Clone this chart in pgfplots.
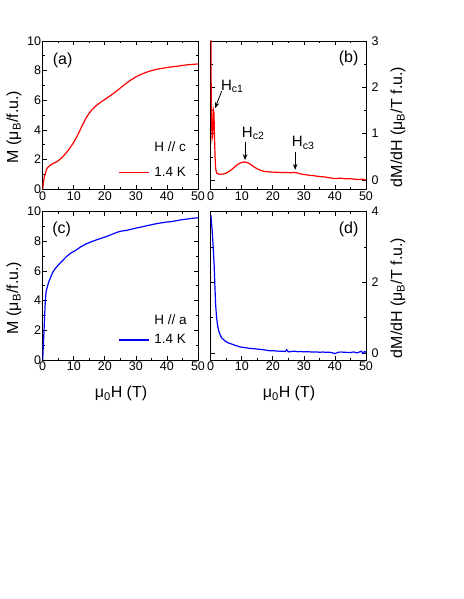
\documentclass[border=0pt]{standalone}
\usepackage{fontspec}
\setmainfont{Liberation Sans}
\usepackage{pgfplots}
\pgfplotsset{compat=1.18}
\usetikzlibrary{arrows.meta}

\pgfplotsset{
  panel/.style={
    scale only axis, width=155.3pt, height=148.3pt,
    xmin=0, xmax=50, xtick={0,10,...,50}, minor x tick num=1,
    tick align=inside, major tick length=4pt, minor tick length=2pt,
    axis line style={line width=0.8pt},
    every tick/.style={line width=0.7pt, black},
    tick label style={font=\fontsize{12.5}{15}\selectfont},
    /pgf/number format/assume math mode=true,
    xticklabel style={inner sep=2pt},
    yticklabel style={inner sep=1.5pt},
  },
  leg/.style={
    legend style={draw=none, fill=none, at={#1}, anchor=west,
      inner sep=0pt, outer sep=0pt,
      nodes={inner sep=0pt, font=\fontsize{13.5}{16}\selectfont},
      /tikz/column sep=5pt},
    legend image code/.code={\draw[##1] (0pt,0pt) -- (29.7pt,0pt);},
  },
}
\tikzset{
  plab/.style={font=\fontsize{16}{19}\selectfont},
  alab/.style={font=\fontsize{16}{19}\selectfont},
  hlab/.style={anchor=base west, inner sep=0pt, font=\fontsize{15}{18}\selectfont},
  txt/.style={anchor=base west, inner sep=0pt, font=\fontsize{13.5}{16}\selectfont},
  arr/.style={-{Stealth[length=6pt,width=4.5pt]}, line width=0.8pt},
}

\begin{document}
\begin{tikzpicture}
\path[use as bounding box] (0pt,0pt) rectangle (463pt,599pt);

% (a) M, H // c
\begin{axis}[panel, at={(42.7pt,409.7pt)}, anchor=south west,
  ymin=0, ymax=10, ytick={0,2,...,10}, minor y tick num=1,
  leg={(axis cs:24.4,1.12)}]
\addplot[red, line width=1.2pt] coordinates {
(0,0) (0.2,0.4) (0.5,0.8) (0.9,1.1) (1.2,1.3) (1.5,1.45) (2,1.55) (3,1.7)
(4,1.8) (5,1.92) (6,2.1) (7,2.32) (8,2.57) (9,2.86) (10,3.17) (11,3.55)
(12,3.98) (13,4.42) (14,4.82) (15,5.14) (16,5.4) (17,5.6) (18,5.77) (19,5.92)
(20,6.06) (21,6.2) (22,6.35) (23,6.5) (24,6.66) (26,7.0) (28,7.32) (30,7.58)
(32,7.78) (34,7.94) (36,8.06) (38,8.14) (40,8.21) (42,8.27) (44,8.32)
(46,8.38) (48,8.42) (50,8.45)};
\addlegendentry{1.4 K}
\node[plab] at (axis cs:6.4,8.72) {(a)};
\node[txt] at (axis cs:35.9,2.54) {H // c};
\end{axis}

% (b) dM/dH, H // c
\begin{axis}[panel, at={(210.7pt,409.7pt)}, anchor=south west,
  ymin=-0.2, ymax=3, ytick={0,1,2,3}, minor y tick num=1,
  yticklabel pos=right, yticklabel style={xshift=4pt}]
\addplot[red, line width=1.2pt] coordinates {
(0.05,3.5) (0.15,2.0) (0.3,1.2) (0.45,0.9) (0.6,0.95) (0.75,1.3) (0.9,1.5)
(1.05,1.45) (1.2,1.0) (1.4,0.5) (1.6,0.25) (1.9,0.15) (2.5,0.13) (3,0.125)
(4,0.13) (5,0.15) (6,0.19) (7,0.24) (8,0.3) (9,0.35) (10,0.38) (11,0.39)
(12,0.37) (13,0.33) (14,0.28) (15,0.24) (16,0.21) (17,0.19) (18,0.18)
(19,0.175) (20,0.17) (21,0.168) (22,0.165) (23,0.16) (24,0.162) (25,0.16)
(26,0.158) (27,0.165) (28,0.15) (29,0.13) (30,0.12) (31,0.11) (32,0.10)
(33,0.095) (34,0.085) (35,0.075) (36,0.07) (37,0.065) (38,0.05) (39,0.04)
(40,0.03) (41,0.035) (42,0.04) (43,0.03) (44,0.025) (45,0.03) (46,0.02)
(47,0.015) (48,0.01) (49,0.02) (49.5,0.0) (50,0.01)};
\node[plab] at (axis cs:44.4,2.63) {(b)};
\node[hlab] at (axis cs:3.3,1.94) {H\textsubscript{c1}};
\draw[arr] (axis cs:3.55,1.92) -- (axis cs:1.39,1.55);
\node[hlab] at (axis cs:10.0,0.92) {H\textsubscript{c2}};
\draw[arr] (axis cs:11.06,0.83) -- (axis cs:11.06,0.43);
\node[hlab] at (axis cs:26.1,0.72) {H\textsubscript{c3}};
\draw[arr] (axis cs:27.2,0.61) -- (axis cs:27.2,0.22);
\end{axis}

% (c) M, H // a
\begin{axis}[panel, at={(42.7pt,239pt)}, anchor=south west,
  ymin=0, ymax=10, ytick={0,2,...,10}, minor y tick num=1,
  leg={(axis cs:24.4,1.35)}]
\addplot[blue, line width=1.2pt] coordinates {
(0,0) (0.2,1.0) (0.43,2.0) (0.65,3.1) (0.86,4.05) (1.1,4.6) (1.5,4.95)
(2,5.3) (2.4,5.5) (3,5.8) (3.4,5.97) (4,6.15) (5,6.4) (6,6.62) (7,6.83)
(7.7,6.98) (9,7.2) (10.9,7.43) (12,7.6) (14.1,7.84) (16,8.0) (17.3,8.1)
(19,8.22) (20.6,8.33) (22,8.45) (23.8,8.6) (25,8.68) (27,8.74) (28.5,8.82)
(30.2,8.9) (32,8.98) (33.4,9.05) (35,9.12) (36.6,9.19) (38,9.24) (39.8,9.3)
(41,9.32) (43,9.39) (44.5,9.45) (46.3,9.5) (48,9.55) (50,9.59)};
\addlegendentry{1.4 K}
\node[plab] at (axis cs:6.1,8.78) {(c)};
\node[txt] at (axis cs:35.9,2.36) {H // a};
\end{axis}

% (d) dM/dH, H // a
\begin{axis}[panel, at={(210.7pt,239pt)}, anchor=south west,
  ymin=-0.2, ymax=4, ytick={0,2,4}, minor y tick num=1,
  yticklabel pos=right, yticklabel style={xshift=4pt}]
\addplot[blue, line width=1.2pt] coordinates {
(0.05,3.9) (0.5,3.44) (0.8,3.0) (1.1,2.5) (1.35,1.9) (1.6,1.35) (1.9,1.0)
(2.2,0.79) (2.6,0.62) (3.0,0.52) (3.5,0.43) (4.6,0.34) (5.5,0.29) (6.8,0.25)
(8,0.21) (9.5,0.17) (11,0.15) (12.5,0.13) (13.8,0.12) (15,0.11) (16,0.10)
(17,0.09) (18,0.075) (19.2,0.06) (20,0.065) (21,0.055) (22,0.05) (23,0.05)
(24,0.04) (24.5,0.09) (25,0.03) (26,0.04) (27,0.05) (28,0.035) (29,0.04)
(30,0.03) (31,0.035) (32,0.03) (33,0.025) (34,0.03) (35,0.02) (36,0.025)
(37,0.02) (38,0.02) (39,0.01) (40,-0.02) (40.5,0.0) (41,0.02) (42,0.025)
(43,0.02) (44,0.015) (45,0.01) (46,0.03) (47,0.0) (48,0.03) (48.5,0.05)
(49,-0.01) (49.5,0.04) (50,0.02)};
\node[plab] at (axis cs:44.4,3.51) {(d)};
\end{axis}

% axis titles
\node[alab, rotate=90, anchor=base] at (18pt,472pt) {M (μ\textsubscript{B}/f.u.)};
\node[alab, rotate=90, anchor=base] at (18pt,301pt) {M (μ\textsubscript{B}/f.u.)};
\node[alab, rotate=90, anchor=base] at (402pt,472pt) {dM/dH (μ\textsubscript{B}/T f.u.)};
\node[alab, rotate=90, anchor=base] at (402pt,301pt) {dM/dH (μ\textsubscript{B}/T f.u.)};
\node[alab, anchor=base] at (121pt,201pt) {μ\textsubscript{0}H (T)};
\node[alab, anchor=base] at (289pt,201pt) {μ\textsubscript{0}H (T)};
\end{tikzpicture}
\end{document}
